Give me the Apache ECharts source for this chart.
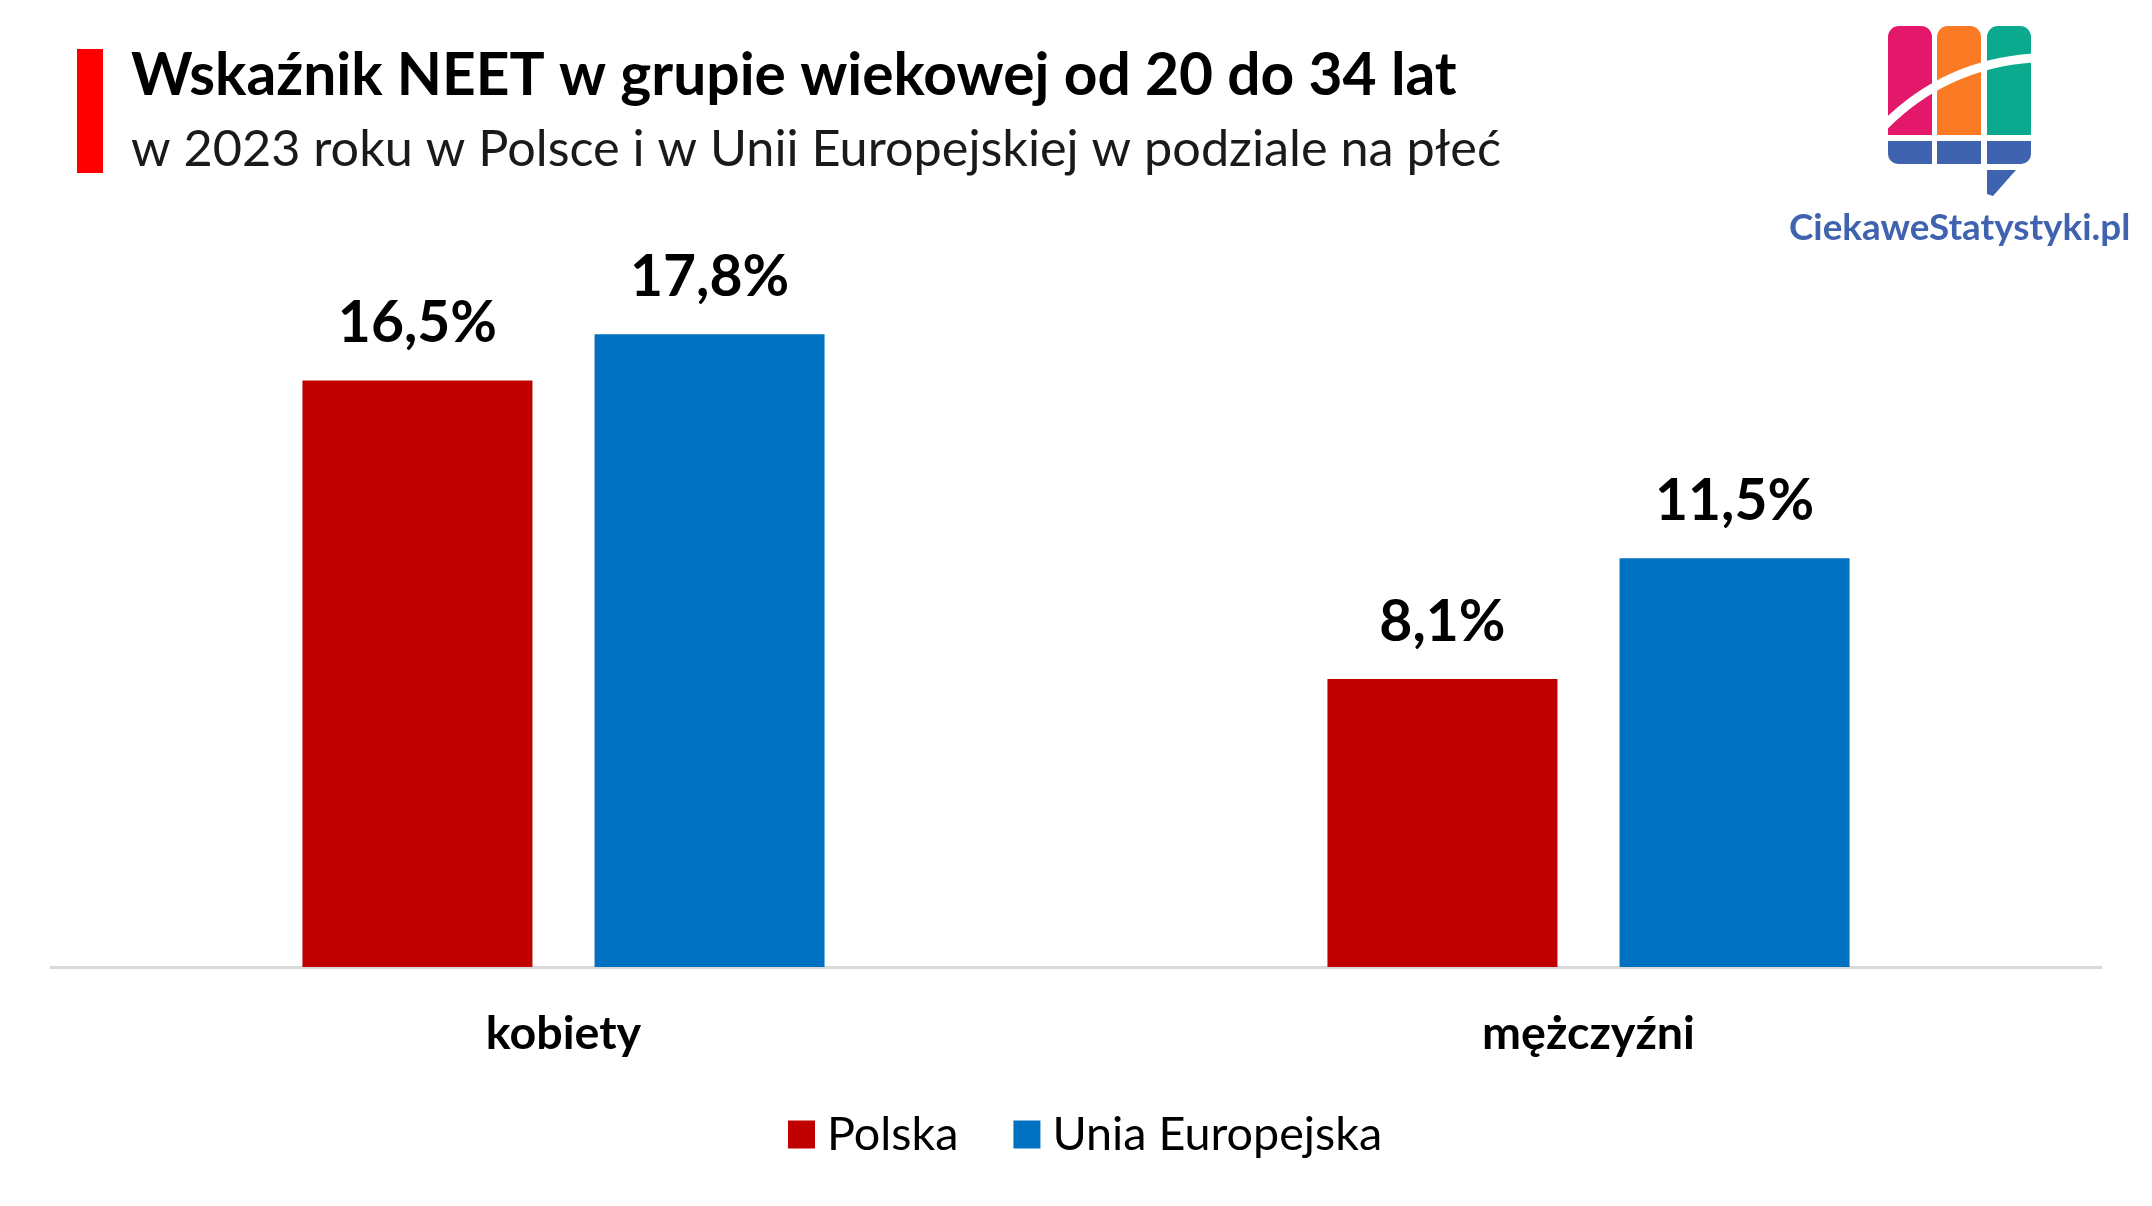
<!DOCTYPE html>
<html>
  <head>
    <meta charset="utf-8" />
    <title>Wskaźnik NEET</title>
    <style>
      html, body { margin: 0; padding: 0; background: #fff; }
    </style>
  </head>
  <body>
    <script type="text/javascript" src="https://cdn.jsdelivr.net/npm/echarts@6/dist/echarts.min.js"></script>

    <div id="container" style="width: 2152px;height: 1206px;"></div>

    <script type="text/javascript">
    // dane
    var categories = ['kobiety', 'mężczyźni'];
    var polska = [16.5, 8.1];
    var uniaEuropejska = [17.8, 11.5];

    var fontName = 'Lato';
    var logoBlue = '#3F63AE';

    function percentLabel(params) {
        return params.value.toFixed(1).replace('.', ',') + '%';
    }

    var myChart = echarts.init(document.getElementById('container'));
    var option;
    option = {
        backgroundColor: '#ffffff',
        animation: false,
        title: [
            {
                text: 'Wskaźnik NEET w grupie wiekowej od 20 do 34 lat',
                left: 131,
                top: 47,
                padding: 0,
                textStyle: { fontFamily: fontName, fontWeight: 'bold', fontSize: 58.7, color: '#000000' }
            },
            {
                text: 'w 2023 roku w Polsce i w Unii Europejskiej w podziale na płeć',
                left: 131,
                top: 125,
                padding: 0,
                textStyle: { fontFamily: fontName, fontWeight: 'normal', fontSize: 50.4, color: '#1a1a1a' }
            }
        ],
        legend: {
            left: 788,
            top: 1111,
            padding: 0,
            itemWidth: 27,
            itemHeight: 28,
            itemGap: 55,
            icon: 'rect',
            textStyle: { fontFamily: fontName, fontSize: 46.7, color: '#000000', padding: [0, 0, 0, 7] },
            data: ['Polska', 'Unia Europejska']
        },
        grid: { left: 51, top: 256, width: 2050, height: 711 },
        xAxis: {
            type: 'category',
            data: categories,
            axisTick: { show: false },
            axisLine: { lineStyle: { color: '#D9D9D9', width: 3 } },
            axisLabel: {
                margin: 43,
                fontFamily: fontName,
                fontWeight: 'bold',
                fontSize: 46.6,
                color: '#000000'
            }
        },
        yAxis: { type: 'value', min: 0, max: 20, show: false },
        series: [
            {
                name: 'Polska',
                type: 'bar',
                data: polska,
                barWidth: 230,
                barGap: '27%',
                itemStyle: { color: '#C00000' },
                label: {
                    show: true,
                    position: 'top',
                    distance: 28,
                    formatter: percentLabel,
                    fontFamily: fontName,
                    fontWeight: 'bold',
                    fontSize: 57,
                    color: '#000000'
                }
            },
            {
                name: 'Unia Europejska',
                type: 'bar',
                data: uniaEuropejska,
                barWidth: 230,
                itemStyle: { color: '#0070C0' },
                label: {
                    show: true,
                    position: 'top',
                    distance: 28,
                    formatter: percentLabel,
                    fontFamily: fontName,
                    fontWeight: 'bold',
                    fontSize: 57,
                    color: '#000000'
                }
            }
        ],
        graphic: [
            // czerwony pasek przy tytule
            { type: 'rect', shape: { x: 77, y: 49, width: 26, height: 124 }, style: { fill: '#FF0000' } },
            // logo
            { type: 'rect', shape: { x: 1888, y: 26, width: 44, height: 109, r: [11, 11, 0, 0] }, style: { fill: '#E3186A' } },
            { type: 'rect', shape: { x: 1937, y: 26, width: 44, height: 109, r: [11, 11, 0, 0] }, style: { fill: '#FB7A24' } },
            { type: 'rect', shape: { x: 1987, y: 26, width: 44, height: 109, r: [11, 11, 0, 0] }, style: { fill: '#0BAA8F' } },
            { type: 'rect', shape: { x: 1888, y: 141, width: 44, height: 23, r: [0, 0, 0, 10] }, style: { fill: logoBlue } },
            { type: 'rect', shape: { x: 1937, y: 141, width: 44, height: 23 }, style: { fill: logoBlue } },
            { type: 'rect', shape: { x: 1987, y: 141, width: 44, height: 23, r: [0, 0, 10, 0] }, style: { fill: logoBlue } },
            {
                type: 'polygon',
                shape: { points: [[1987, 170], [2016, 170], [1993, 196], [1987, 194]] },
                style: { fill: logoBlue }
            },
            {
                type: 'bezierCurve',
                shape: { x1: 1885, y1: 125, cpx1: 1925, cpy1: 85, cpx2: 1975, cpy2: 62, x2: 2033, y2: 58 },
                style: { stroke: '#ffffff', lineWidth: 9, fill: 'none' }
            },
            {
                type: 'text',
                left: 1789,
                top: 210,
                style: {
                    text: 'CiekaweStatystyki.pl',
                    fontFamily: fontName,
                    fontWeight: 'bold',
                    fontSize: 36.8,
                    fill: logoBlue
                }
            }
        ]
    };
    myChart.setOption(option);
    </script>
  </body>
</html>
